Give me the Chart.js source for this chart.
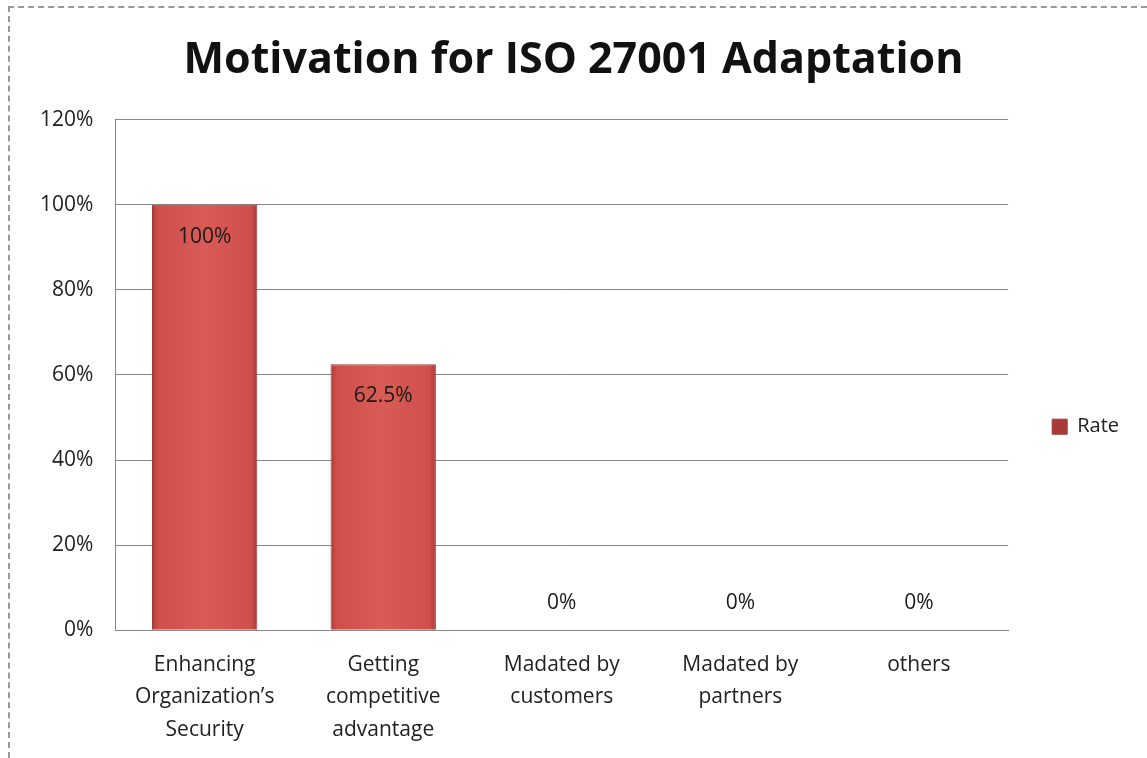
<!DOCTYPE html>
<html>
<head>
<meta charset="utf-8">
<script src="https://cdn.jsdelivr.net/npm/chart.js@4"></script>
<style>
  body { margin: 0; background: #fff; }
  #frame { position: absolute; left: 8px; top: 6px; right: 0; bottom: 0;
           border-left: 2px dashed #999; border-top: 2px dashed #999; }
  canvas { position: absolute; left: 0; top: 0; }
</style>
</head>
<body>
<div id="frame"></div>
<canvas id="barChart" width="1147" height="758"></canvas>
<script>
var categories = [
    ['Enhancing', 'Organization\u2019s', 'Security'],
    ['Getting', 'competitive', 'advantage'],
    ['Madated by', 'customers'],
    ['Madated by', 'partners'],
    ['others']
];
var rates = [1.0, 0.625, 0, 0, 0];
var rateLabels = ['100%', '62.5%', '0%', '0%', '0%'];

var barPct = 0.59;

// draws the value text on each bar
var valueLabels = {
    id: 'valueLabels',
    afterDatasetsDraw: function (chart) {
        var ctx = chart.ctx;
        var meta = chart.getDatasetMeta(0);
        ctx.save();
        ctx.font = '21px "Open Sans", sans-serif';
        ctx.fillStyle = '#1a1a1a';
        ctx.textAlign = 'center';
        ctx.textBaseline = 'middle';
        meta.data.forEach(function (bar, i) {
            var y = rates[i] > 0 ? bar.y + 32 : bar.y - 27;
            ctx.fillText(rateLabels[i], bar.x, y);
        });
        ctx.restore();
    }
};

function barFill(context) {
    var chart = context.chart;
    if (!chart.chartArea) return '#c0504d';
    var x = chart.scales.x;
    var cx = x.getPixelForValue(context.dataIndex);
    var w = (x.width / categories.length) * barPct;
    var g = chart.ctx.createLinearGradient(cx - w / 2, 0, cx + w / 2, 0);
    g.addColorStop(0, '#b03c39');
    g.addColorStop(0.06, '#cf4f4b');
    g.addColorStop(0.5, '#d95b56');
    g.addColorStop(0.94, '#cf4f4b');
    g.addColorStop(1, '#a83a37');
    return g;
}

var ctx = document.getElementById('barChart').getContext('2d');
new Chart(ctx, {
    type: 'bar',
    data: {
        labels: categories,
        datasets: [{
            label: 'Rate',
            data: rates,
            backgroundColor: barFill,
            borderColor: '#9c3b38',
            borderWidth: 1,
            categoryPercentage: barPct,
            barPercentage: 1.0
        }]
    },
    options: {
        responsive: false,
        animation: false,
        layout: { padding: { left: 18, right: 18, top: 18, bottom: 2 } },
        plugins: {
            title: {
                display: true,
                text: 'Motivation for ISO 27001 Adaptation',
                color: '#111',
                font: { family: 'Open Sans', size: 43, weight: 'bold' },
                padding: { top: 17, bottom: 33 }
            },
            legend: {
                position: 'right',
                title: {
                    display: true,
                    text: ' ',
                    font: { size: 12 },
                    padding: { top: 0, bottom: 65 }
                },
                labels: {
                    color: '#222',
                    font: { family: 'Open Sans', size: 20 },
                    boxWidth: 15,
                    boxHeight: 15,
                    padding: 44
                }
            },
            tooltip: { enabled: false }
        },
        scales: {
            y: {
                min: 0,
                max: 1.2,
                ticks: {
                    stepSize: 0.2,
                    color: '#222',
                    padding: 22,
                    font: { family: 'Open Sans', size: 21 },
                    callback: function (v) { return Math.round(v * 100) + '%'; }
                },
                grid: { color: '#888', drawTicks: false },
                border: { color: '#888' }
            },
            x: {
                ticks: {
                    color: '#222',
                    padding: 10,
                    maxRotation: 0,
                    autoSkip: false,
                    font: { family: 'Open Sans', size: 21, lineHeight: 1.55 }
                },
                grid: { display: false },
                border: { color: '#888' }
            }
        }
    },
    plugins: [valueLabels]
});
</script>
</body>
</html>
